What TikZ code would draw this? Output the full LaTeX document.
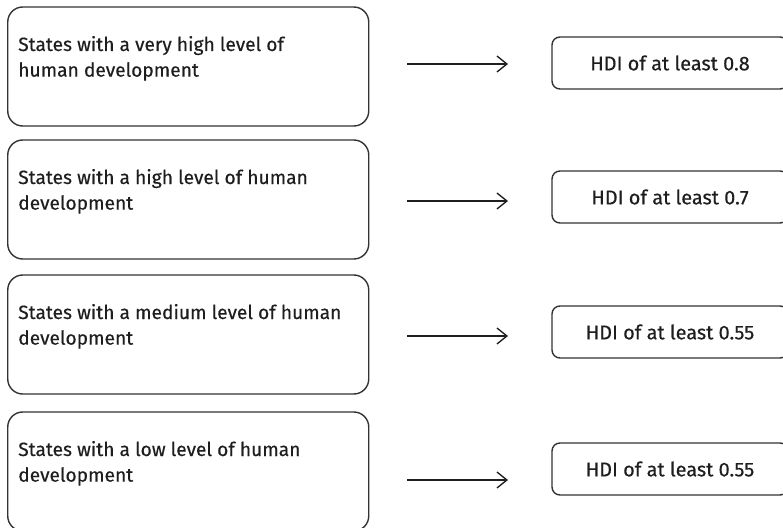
\documentclass[tikz,border=0pt]{standalone}
\usepackage{fontspec}
\setmainfont[FakeBold=0.4,AutoFakeBold=0.4]{Fira Sans}
\usetikzlibrary{arrows.meta}
\newlength\px
\setlength\px{0.75pt}
\definecolor{ink}{HTML}{1E1E1E}
\definecolor{edge}{HTML}{333333}
\tikzset{
  levelbox/.style={draw=edge, line width=1.4\px, rounded corners=15\px,
    inner xsep=10.5\px, inner ysep=0pt, outer sep=0pt, text=ink,
    font=\fontsize{14.4pt}{19.2pt}\selectfont},
  hdibox/.style={draw=edge, line width=1.4\px, rounded corners=8\px,
    minimum width=236\px, minimum height=52\px, inner sep=0pt, text=ink,
    font=\fontsize{14.9pt}{18pt}\selectfont},
  link/.style={draw=ink, line width=1pt,
    -{Straight Barb[length=7.5pt, width=12pt, line width=1pt]}}
}
% box text: fixed-height parbox, first baseline 44px below the top edge
\newcommand{\levtext}[1]{\parbox[c][119\px][t]{340\px}{\raggedright\rule{0pt}{44\px}#1}}
\begin{document}
\begin{tikzpicture}[x=\px, y=-\px]
\useasboundingbox (0,0) rectangle (783,528);
\clip (0,0) rectangle (783,528);

% category boxes on the left
\node[levelbox] (s1) at (188.25,66.5)  {\levtext{States with a very high level of\\human development}};
\node[levelbox] (s2) at (188.25,199.5) {\levtext{States with a high level of human\\development}};
\node[levelbox] (s3) at (188.25,334.5) {\levtext{States with a medium level of human\\development}};
\node[levelbox] (s4) at (188.25,471.5) {\levtext{States with a low level of human\\development}};

% HDI thresholds on the right
\node[hdibox] (h1) at (670,63)  {HDI of at least 0.8};
\node[hdibox] (h2) at (670,197) {HDI of at least 0.7};
\node[hdibox] (h3) at (670,332) {HDI of at least 0.55};
\node[hdibox] (h4) at (670,469) {HDI of at least 0.55};

% arrow ends
\coordinate (a1) at (407,64);  \coordinate (b1) at (508,64);
\coordinate (a2) at (407,201); \coordinate (b2) at (508,201);
\coordinate (a3) at (407,336); \coordinate (b3) at (508,336);
\coordinate (a4) at (407,480); \coordinate (b4) at (508,480);

\draw[link] (a1) -- (b1);
\draw[link] (a2) -- (b2);
\draw[link] (a3) -- (b3);
\draw[link] (a4) -- (b4);
\end{tikzpicture}
\end{document}
